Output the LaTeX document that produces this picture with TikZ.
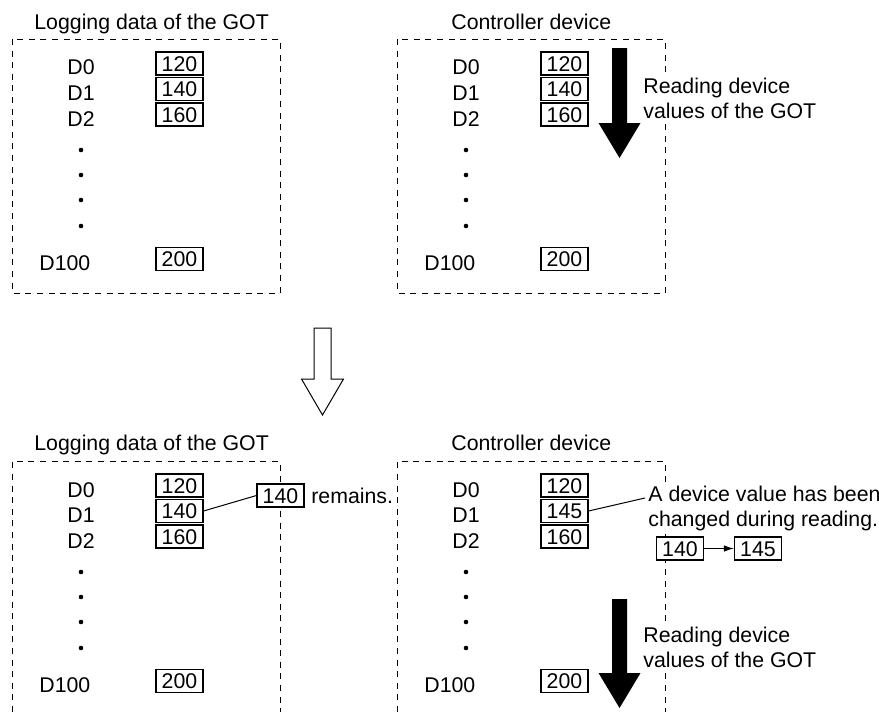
\documentclass[tikz,border=0pt]{standalone}
\usepackage{fontspec}
\setmainfont{Liberation Sans}
\usetikzlibrary{arrows.meta}

\tikzset{
  frame/.style={dash pattern=on 3pt off 2.8pt, line width=0.5pt},
  valbox/.style={draw, fill=white, line width=0.55pt, minimum width=23.5pt,
                 minimum height=11.5pt, inner sep=0pt, text height=7.6pt, text depth=0pt},
  dlabel/.style={anchor=base west, inner sep=0pt},
  readnote/.style={anchor=base west, align=left, fill=white, inner sep=1pt},
}

\begin{document}
\begin{tikzpicture}[x=0.5pt, y=-0.5pt, font=\fontsize{10.65}{12.4}\selectfont]
    \useasboundingbox (0,0) rectangle (879,712);

    % ===== SUS-STANGA: Logging data of the GOT =====
    \draw[frame] (12.5,39) rectangle (280,293);
    \node[dlabel] (tltitle) at (34,29) {Logging data of the GOT};
    \foreach \idx/\val/\yc in {0/120/63.5, 1/140/89, 2/160/114.5} {
      \node[dlabel] (tld\idx) at (67,{\yc+11.5}) {D\idx};
      \node[valbox] (tlv\idx) at (179.5,\yc) {\val};
    }
    \foreach \yd in {150,175,200,226}
      \fill (81,\yd) circle (1.15pt);
    \node[dlabel] (tld100) at (39,270.5) {D100};
    \node[valbox] (tlv100) at (179.5,259) {200};

    % ===== SUS-DREAPTA: Controller device =====
    \draw[frame] (397.5,39) rectangle (665,293);
    \node[dlabel] (trtitle) at (451,29) {Controller device};
    \foreach \idx/\val/\yc in {0/120/63.5, 1/140/89, 2/160/114.5} {
      \node[dlabel] (trd\idx) at (452,{\yc+11.5}) {D\idx};
      \node[valbox] (trv\idx) at (564.5,\yc) {\val};
    }
    \foreach \yd in {150,175,200,226}
      \fill (466,\yd) circle (1.15pt);
    \node[dlabel] (trd100) at (424,270.5) {D100};
    \node[valbox] (trv100) at (564.5,259) {200};

    % sageata neagra de citire
    \fill (612,48) -- (627,48) -- (627,123) -- (640.5,123) -- (619.5,158)
          -- (598.5,123) -- (612,123) -- cycle;
    % ancora base = ultima linie
    \node[readnote] (trread) at (641,118) {Reading device\\values of the GOT};

    % ===== sageata goala intre etape =====
    \draw[line width=0.5pt, fill=white] (314,328) -- (331,328) -- (331,379) -- (343.5,379)
          -- (322.5,415) -- (301.5,379) -- (314,379) -- cycle;

    % ===== JOS-STANGA: Logging data of the GOT =====
    \draw[frame] (12.5,712) -- (12.5,461) -- (280,461) -- (280,712);
    \node[dlabel] (bltitle) at (34,450.5) {Logging data of the GOT};
    \foreach \idx/\val/\yc in {0/120/485.5, 1/140/511, 2/160/536.5} {
      \node[dlabel] (bld\idx) at (67,{\yc+11.5}) {D\idx};
      \node[valbox] (blv\idx) at (179.5,\yc) {\val};
    }
    \foreach \yd in {572,597,622,648}
      \fill (81,\yd) circle (1.15pt);
    \node[dlabel] (bld100) at (39,692.5) {D100};
    \node[valbox] (blv100) at (179.5,681) {200};

    % valoarea 140 ramane
    \node[valbox] (blkeep) at (280.5,495.5) {140};
    \node[dlabel] (blrem) at (311,503.5) {remains.};
    \draw[line width=0.5pt] (blv1.east) -- (blkeep.west);

    % ===== JOS-DREAPTA: Controller device =====
    \draw[frame] (397.5,712) -- (397.5,461) -- (665,461) -- (665,712);
    \node[dlabel] (brtitle) at (451,450.5) {Controller device};
    \foreach \idx/\val/\yc in {0/120/485.5, 1/145/511, 2/160/536.5} {
      \node[dlabel] (brd\idx) at (452,{\yc+11.5}) {D\idx};
      \node[valbox] (brv\idx) at (564.5,\yc) {\val};
    }
    \foreach \yd in {572,597,622,648}
      \fill (466,\yd) circle (1.15pt);
    \node[dlabel] (brd100) at (424,692.5) {D100};
    \node[valbox] (brv100) at (564.5,681) {200};

    % valoare schimbata in timpul citirii
    \node[readnote] (brnote) at (646,526) {A device value has been\\changed during reading.};
    \coordinate (brtip) at (645,498);
    \draw[line width=0.5pt] (brv1.east) -- (brtip);
    \node[valbox] (brold) at (680,548.5) {140};
    \node[valbox] (brnew) at (758,548.5) {145};
    \draw[line width=0.5pt, -{Latex[length=5pt, width=3.2pt]}] (brold) -- (brnew);

    % sageata neagra de citire
    \fill (612,599) -- (627,599) -- (627,673) -- (640.5,673) -- (619.5,708)
          -- (598.5,673) -- (612,673) -- cycle;
    \node[readnote] (brread) at (641,667) {Reading device\\values of the GOT};

  \end{tikzpicture}
\end{document}
